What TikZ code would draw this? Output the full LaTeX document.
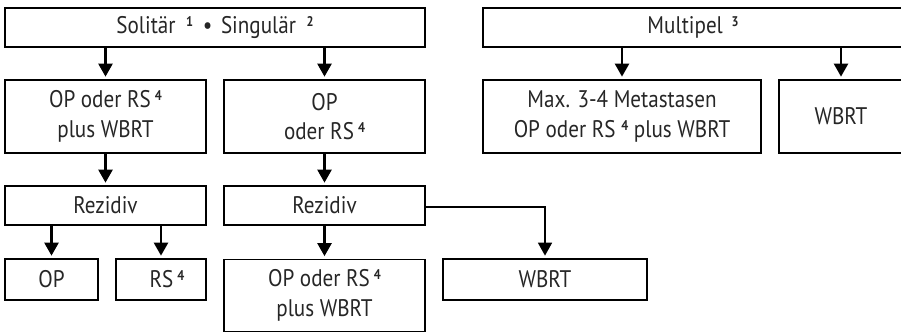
\documentclass[tikz,border=0pt]{standalone}
\usepackage{fontspec}
\setmainfont[FakeStretch=0.88]{PT Sans}
\usetikzlibrary{arrows.meta}
\newcommand{\sups}[1]{\raisebox{0.6ex}{\fontsize{14}{14}\selectfont\bfseries #1}}
\begin{document}
\begin{tikzpicture}[x=1pt,y=-1pt,
  box/.style={draw, line width=1.7pt, inner sep=0pt, align=center,
    font=\fontsize{24}{29.5}\selectfont, text=black!85},
  conn/.style={line width=2.4pt, -{Triangle[width=14pt,length=13pt]}, shorten >=2.5pt},
  thinconn/.style={line width=1.7pt, -{Triangle[width=14pt,length=13pt]}, shorten >=2.5pt}]
\useasboundingbox (0,0) rectangle (901,332);
\clip (0,0) rectangle (901,332);
\node[box, minimum width=420pt, minimum height=39pt] (sol) at (215,27.5) {Solitär\hspace{5pt} \sups{1}\hspace{4pt} •\hspace{3pt} Singulär\hspace{5pt} \sups{2}};
\node[box, minimum width=420pt, minimum height=39pt] (mul) at (693,27.5) {Multipel\hspace{3pt} \sups{3}};
\node[box, minimum width=201pt, minimum height=73pt] (a1) at (105.5,116.5) {OP oder RS\,\sups{4}\\plus WBRT};
\node[box, minimum width=201pt, minimum height=73pt] (a2) at (324.5,116.5) {OP\\oder RS\,\sups{4}};
\node[box, minimum width=278pt, minimum height=73pt] (m1) at (622,116.5) {Max. 3-4 Metastasen\\OP oder RS \sups{4} plus WBRT};
\node[box, minimum width=124pt, minimum height=73pt] (m2) at (841,116.5) {WBRT};
\node[box, minimum width=201pt, minimum height=39pt] (r1) at (105.5,205.5) {Rezidiv};
\node[box, minimum width=201pt, minimum height=39pt] (r2) at (324.5,205.5) {Rezidiv};
\node[box, minimum width=93pt, minimum height=41pt] (op) at (51.5,279.5) {OP};
\node[box, minimum width=90pt, minimum height=41pt] (rs) at (161,279.5) {\hspace*{12pt}RS\,\sups{4}};
\node[box, minimum width=201pt, minimum height=72pt] (c) at (324.5,295.5) {OP oder RS\,\sups{4}\\plus WBRT};
\node[box, minimum width=204pt, minimum height=41pt] (w) at (545,279.5) {WBRT};
\draw[conn] (sol.south -| a1.north) -- (a1.north);
\draw[conn] (sol.south -| a2.north) -- (a2.north);
\draw[conn] (mul.south -| m1.north) -- (m1.north);
\draw[conn] (mul.south -| m2.north) -- (m2.north);
\draw[conn] (a1.south) -- (r1.north);
\draw[conn] (a2.south) -- (r2.north);
\draw[conn] (r1.south -| op.north) -- (op.north);
\draw[conn] (r1.south -| rs.north) -- (rs.north);
\draw[conn] (r2.south) -- (c.north);
\draw[thinconn] (r2.east |- 0,207) -- (w.north |- 0,207) -- (w.north);
\end{tikzpicture}
\end{document}
